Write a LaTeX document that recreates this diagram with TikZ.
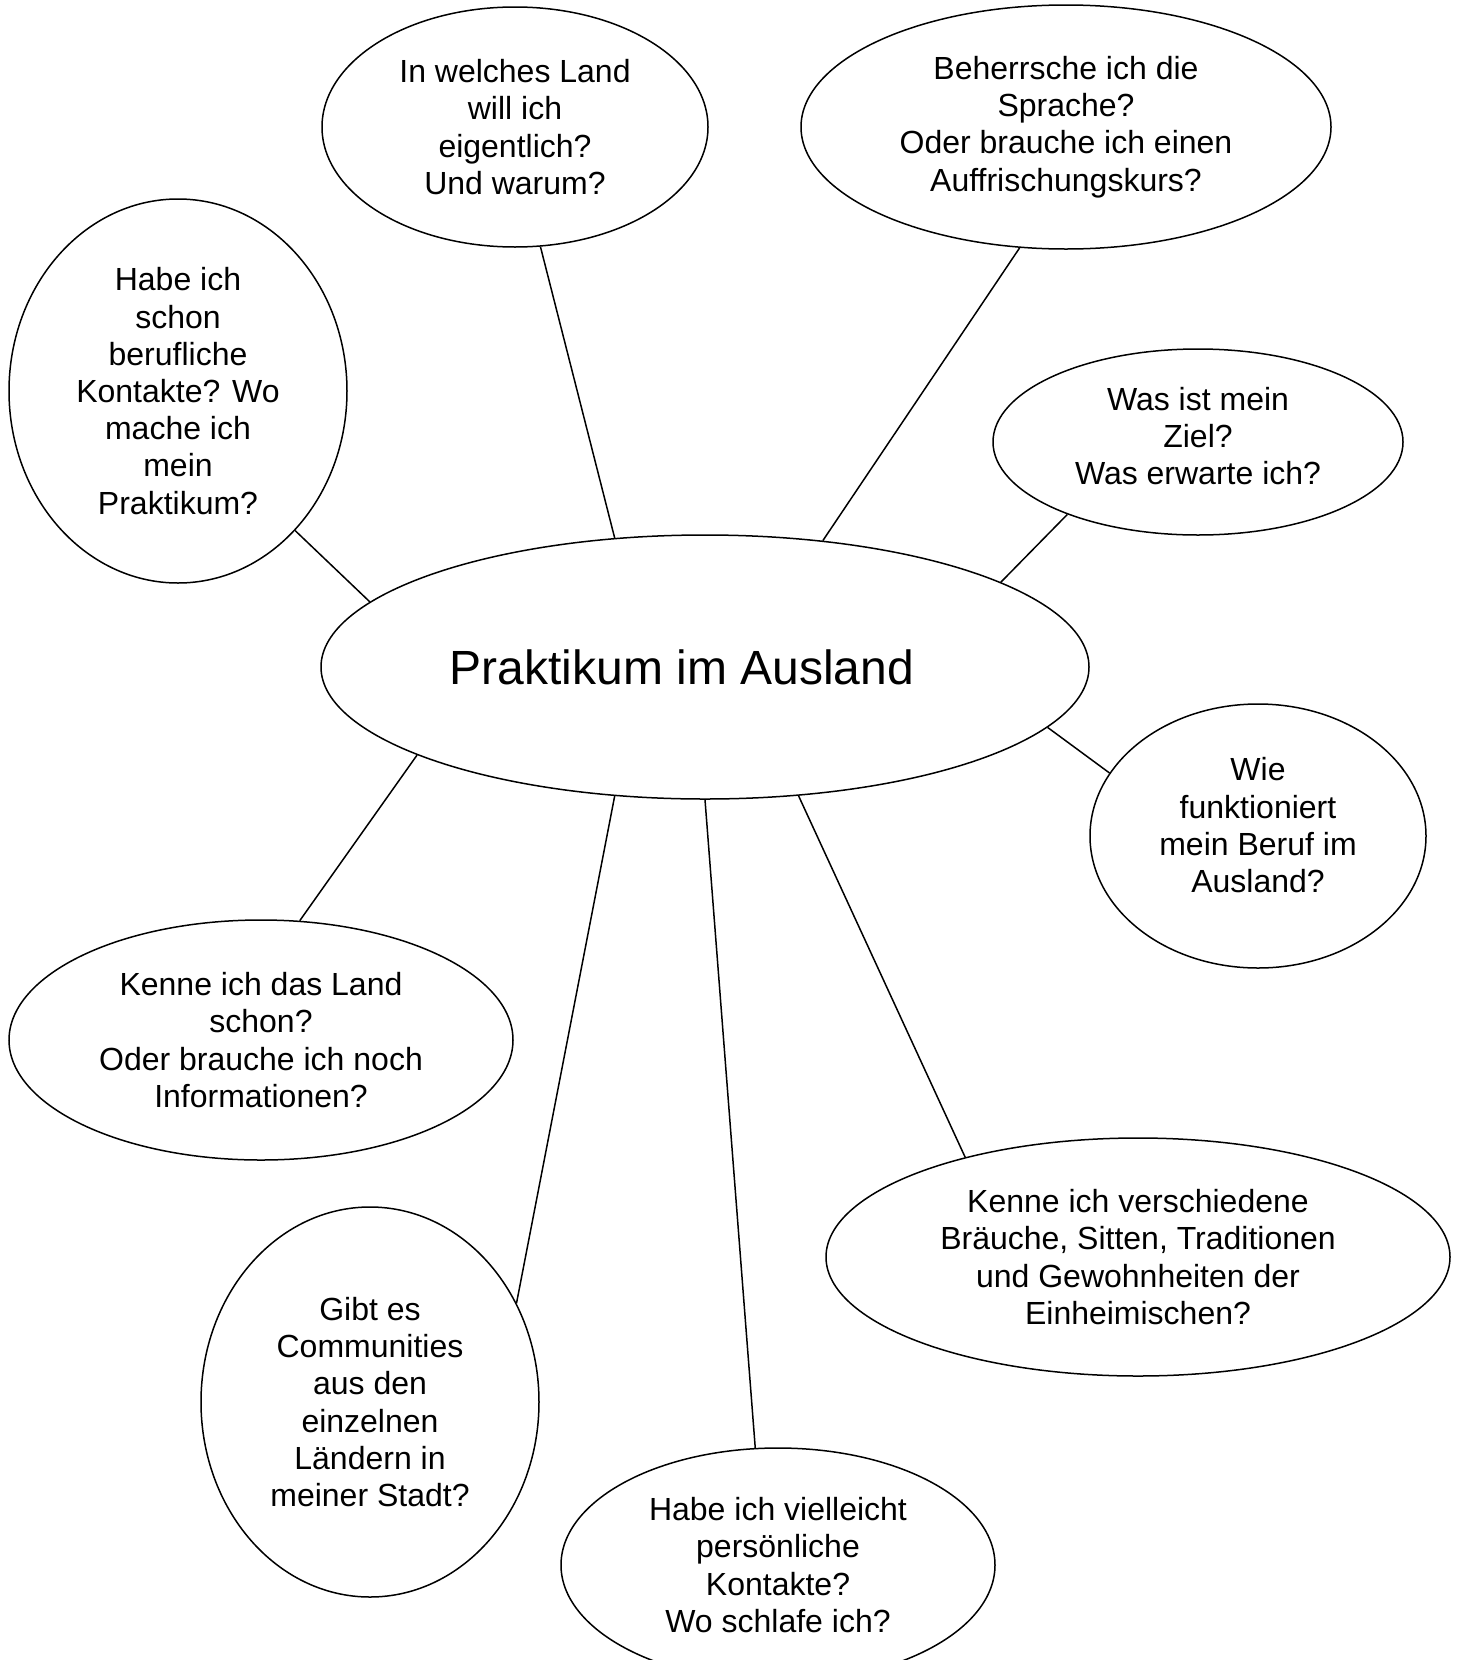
\documentclass[tikz,border=0pt]{standalone}
\usepackage{fontspec}
\setmainfont{Liberation Sans}
\usetikzlibrary{shapes.geometric}

\begin{document}
\begin{tikzpicture}[
  x=0.5pt, y=-0.5pt,
  bubble/.style={draw, ellipse, inner sep=0pt, align=center, line width=0.75pt,
    font=\fontsize{16}{18.6}\selectfont},
  hub/.style={bubble, font=\fontsize{24}{28}\selectfont},
  link/.style={line width=0.75pt}
]
\useasboundingbox (0,0) rectangle (1463,1660);
\clip (0,0) rectangle (1463,1660);
% centre
\node[hub, minimum width=384pt, minimum height=132pt] (main) at (705,667) {Praktikum im Ausland\hspace*{23pt}};
% questions round it
\node[bubble, minimum width=193pt, minimum height=120pt] (land) at (515,127)
  {In welches Land\\will ich\\eigentlich?\\Und warum?};
\node[bubble, minimum width=265pt, minimum height=122pt] (sprache) at (1066,127)
  {Beherrsche ich die\\Sprache?\\Oder brauche ich einen\\Auffrischungskurs?};
\node[bubble, minimum width=169pt, minimum height=192pt] (kontakte) at (178,391)
  {Habe ich\\schon\\berufliche\\Kontakte? Wo\\mache ich\\mein\\Praktikum?};
\node[bubble, minimum width=205pt, minimum height=93pt, text depth=6pt] (ziel) at (1198,442)
  {Was ist mein\\Ziel?\\Was erwarte ich?};
\node[bubble, minimum width=168pt, minimum height=132pt, text depth=11pt] (beruf) at (1258,836)
  {Wie\\funktioniert\\mein Beruf im\\Ausland?};
\node[bubble, minimum width=252pt, minimum height=120pt] (landinfo) at (261,1040)
  {Kenne ich das Land\\schon?\\Oder brauche ich noch\\Informationen?};
\node[bubble, minimum width=312pt, minimum height=119pt] (braeuche) at (1138,1257)
  {Kenne ich verschiedene\\Bräuche, Sitten, Traditionen\\und Gewohnheiten der\\Einheimischen?};
\node[bubble, minimum width=169pt, minimum height=195pt] (communities) at (370,1402)
  {Gibt es\\Communities\\aus den\\einzelnen\\Ländern in\\meiner Stadt?};
\node[bubble, minimum width=217pt, minimum height=117pt] (persoenlich) at (778,1565)
  {Habe ich vielleicht\\persönliche\\Kontakte?\\Wo schlafe ich?};
% spokes
\draw[link] (land.-78.7) -- (main.125.9);
\draw[link] (sprache.-111.6) -- (main.47.1);
\draw[link] (ziel.-151.6) -- (main.16);
\draw[link] (main.-10.2) -- (beruf.157.2);
\draw[link] (main.-54) -- (braeuche.150);
\draw[link] (main.-90) -- (persoenlich.101.6);
\draw[link] (main.-125.1) -- (communities.34.2);
\draw[link] (main.-163.1) -- (landinfo.72.4);
\draw[link] (kontakte.-50.2) -- (main.169.5);
\end{tikzpicture}
\end{document}
